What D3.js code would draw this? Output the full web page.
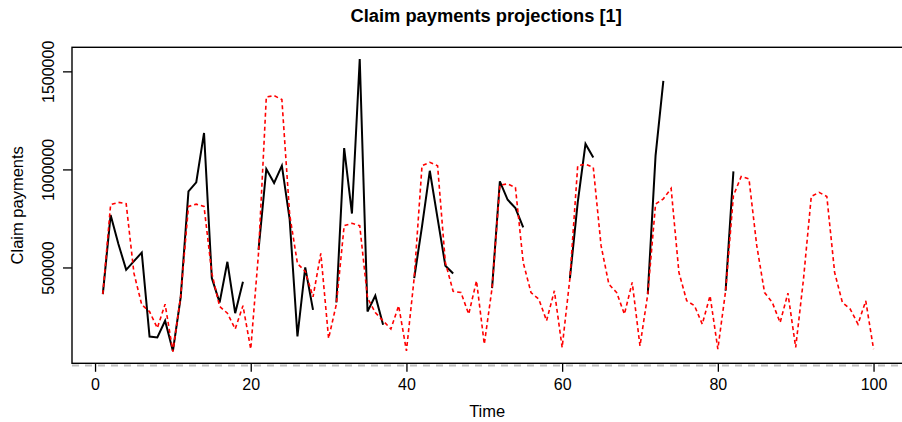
<!DOCTYPE html>
<html>
<head>
<meta charset="utf-8">
<script src="https://cdn.jsdelivr.net/npm/d3@7"></script>
<style>
  html, body { margin: 0; padding: 0; background: #fff; }
  svg { display: block; }
  text { font-family: "Liberation Sans", Arial, Helvetica, sans-serif; fill: #000; }
</style>
</head>
<body>
<svg id="chart" width="902" height="422"></svg>
<script>
// ---- data ----
const time = d3.range(1, 101);

const observed = [
  364000, 767000, 620000, 488000, 532000, 576000, 148000, 143000, 228000, 73500,
  347000, 888000, 934000, 1186000, 446000, 321000, 529000, 267000, 427000, null,
  590000, 1002000, 931000, 1019000, 745000, 148000, 500000, 284000, null, null,
  321000, 1109000, 775000, 1563000, 275000, 356000, 208000, null, null, null,
  446000, 710000, 993000, 750000, 509000, 469000, null, null, null, null,
  395000, 939000, 845000, 803000, 704000, null, null, null, null, null,
  446000, 831000, 1130000, 1061000, null, null, null, null, null, null,
  364000, 1070000, 1452000, null, null, null, null, null, null, null,
  381000, 990000, null, null, null, null, null, null, null, null,
  null, null, null, null, null, null, null, null, null, null
];

const projected = [
  364000, 820000, 832000, 825000, 470000, 310000, 275000, 191000, 313000, 71000,
  352000, 811000, 823000, 811000, 471000, 301000, 267000, 186000, 305000, 84000,
  574000, 1369000, 1376000, 1356000, 770000, 520000, 480000, 350000, 572000, 138000,
  313000, 713000, 725000, 713000, 345000, 270000, 228000, 186000, 305000, 75000,
  449000, 1019000, 1036000, 1019000, 525000, 378000, 372000, 262000, 432000, 109000,
  395000, 920000, 926000, 908000, 525000, 372000, 339000, 228000, 381000, 92000,
  446000, 1019000, 1027000, 1010000, 611000, 415000, 372000, 262000, 424000, 100000,
  364000, 823000, 850000, 903000, 475000, 330000, 305000, 211000, 356000, 84000,
  381000, 866000, 964000, 951000, 611000, 372000, 321000, 219000, 369000, 92000,
  440000, 862000, 883000, 862000, 475000, 321000, 288000, 211000, 330000, 84000
];

const xTicks = [0, 20, 40, 60, 80, 100];
const yTicks = [500000, 1000000, 1500000];
const titleText = "Claim payments projections [1]";
const xLabel = "Time";
const yLabel = "Claim payments";

// ---- layout ----
const svg = d3.select("#chart");
const mLeft = 72, mTop = 47.3, mBottom = 363.3;
const pxPerUnit = 7.785;

// R-style 4% range expansion
const xExt = d3.extent(time);
const xPad = (xExt[1] - xExt[0]) * 0.04;
const xDom = [xExt[0] - xPad, xExt[1] + xPad];
const mRight = mLeft + (xDom[1] - xDom[0]) * pxPerUnit;

const allY = observed.filter(v => v != null).concat(projected);
const yExt = d3.extent(allY);
const yPad = (yExt[1] - yExt[0]) * 0.04;

const x = d3.scaleLinear().domain(xDom).range([mLeft, mRight]);
const y = d3.scaleLinear().domain([yExt[0] - yPad, yExt[1] + yPad]).range([mBottom, mTop]);

// gray dashed reference line at 0
svg.append("line")
  .attr("x1", mLeft).attr("x2", mRight)
  .attr("y1", y(0)).attr("y2", y(0))
  .attr("stroke", "#bebebe").attr("stroke-width", 2.2)
  .attr("stroke-dasharray", "7,6");

// observed (black)
const lineObs = d3.line()
  .defined(d => d[1] != null)
  .x(d => x(d[0])).y(d => y(d[1]));
svg.append("path")
  .datum(time.map((t, i) => [t, observed[i]]))
  .attr("d", lineObs)
  .attr("fill", "none").attr("stroke", "#000")
  .attr("stroke-width", 2).attr("stroke-linejoin", "miter");

// projected (red dashed)
const lineProj = d3.line().x(d => x(d[0])).y(d => y(d[1]));
svg.append("path")
  .datum(time.map((t, i) => [t, projected[i]]))
  .attr("d", lineProj)
  .attr("fill", "none").attr("stroke", "#ff0000")
  .attr("stroke-width", 1.6).attr("stroke-dasharray", "4,3");

// box
svg.append("rect")
  .attr("x", mLeft).attr("y", mTop)
  .attr("width", mRight - mLeft).attr("height", mBottom - mTop)
  .attr("fill", "none").attr("stroke", "#000").attr("stroke-width", 1.4);

// x axis
const xAxis = d3.axisBottom(x).tickValues(xTicks).tickSize(8.5).tickPadding(5).tickSizeOuter(0);
const gx = svg.append("g").attr("transform", `translate(0,${mBottom})`).call(xAxis);
gx.select(".domain").remove();
gx.selectAll(".tick line").attr("stroke", "#000").attr("stroke-width", 1.3);
gx.selectAll(".tick text").attr("font-size", 16).attr("dy", "0.82em")
  .style("font-family", '"Liberation Sans", Arial, sans-serif');

// y axis
const yAxis = d3.axisLeft(y).tickValues(yTicks).tickSize(9).tickFormat(d3.format("d")).tickSizeOuter(0);
const gy = svg.append("g").attr("transform", `translate(${mLeft},0)`).call(yAxis);
gy.select(".domain").remove();
gy.selectAll(".tick line").attr("stroke", "#000").attr("stroke-width", 1.3);
gy.selectAll(".tick text")
  .attr("font-size", 16)
  .attr("x", null).attr("dy", null)
  .attr("text-anchor", "middle")
  .attr("transform", "translate(-18.5,0) rotate(-90)")
  .style("font-family", '"Liberation Sans", Arial, sans-serif');

// title
svg.append("text")
  .attr("x", (mLeft + mRight) / 2 - 2).attr("y", 22)
  .attr("text-anchor", "middle")
  .attr("font-size", 18.3).attr("font-weight", "bold")
  .text(titleText);

// x label
svg.append("text")
  .attr("x", (mLeft + mRight) / 2 - 1).attr("y", 417)
  .attr("text-anchor", "middle")
  .attr("font-size", 16.5)
  .text(xLabel);

// y label
svg.append("text")
  .attr("transform", `translate(23,${(mTop + mBottom) / 2}) rotate(-90)`)
  .attr("text-anchor", "middle")
  .attr("font-size", 16.5)
  .text(yLabel);
</script>
</body>
</html>
